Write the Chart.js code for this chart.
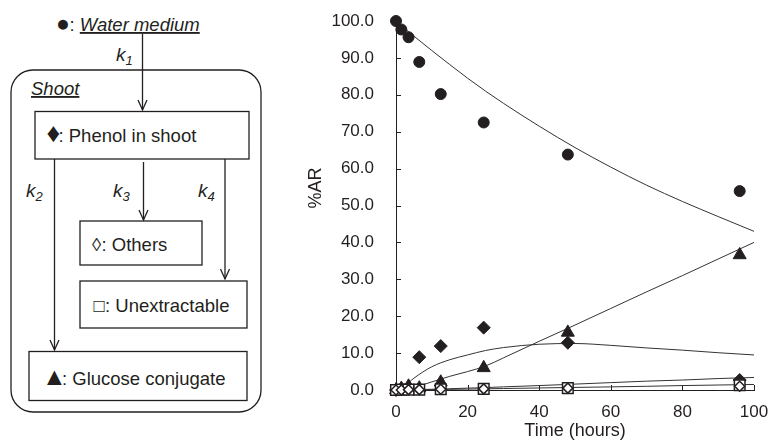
<!DOCTYPE html>
<html>
<head>
<meta charset="utf-8">
<script src="https://cdn.jsdelivr.net/npm/chart.js@4.4.1/dist/chart.umd.min.js"></script>
<style>
  html, body { margin: 0; padding: 0; background: #fff; }
  #page { position: relative; width: 769px; height: 442px; overflow: hidden; }
  #diagram { position: absolute; left: 0; top: 0; }
  #box { position: absolute; left: 290px; top: 0; width: 479px; height: 442px; }
  svg text { font-family: "Liberation Sans", Arial, sans-serif; fill: #231f20; }
</style>
</head>
<body>
<div id="page">
  <svg id="diagram" width="290" height="442" xmlns="http://www.w3.org/2000/svg">
    <g stroke="#231f20" stroke-width="1.3" fill="none">
      <!-- k1 -->
      <line x1="142.5" y1="34" x2="142.5" y2="110"/>
      <polyline points="138,100 142.5,110 147,100"/>
      <!-- shoot container -->
      <rect x="11" y="70" width="250" height="342" rx="22" ry="22"/>
      <!-- boxes -->
      <rect x="35" y="111.5" width="214" height="47.5"/>
      <rect x="80" y="221" width="122" height="44"/>
      <rect x="80" y="281" width="167" height="47"/>
      <rect x="29" y="351.5" width="218" height="49"/>
      <!-- k2 -->
      <line x1="54.5" y1="159" x2="54.5" y2="350"/>
      <polyline points="50,340 54.5,350 59,340"/>
      <!-- k3 -->
      <line x1="143.5" y1="162" x2="143.5" y2="220"/>
      <polyline points="139,210 143.5,220 148,210"/>
      <!-- k4 -->
      <line x1="225" y1="159" x2="225" y2="279"/>
      <polyline points="220.5,269 225,279 229.5,269"/>
    </g>
    <text y="31" font-size="18.5"><tspan x="56" font-size="23">●</tspan><tspan x="69.5">: </tspan><tspan font-style="italic" text-decoration="underline">Water medium</tspan></text>
    <text x="31" y="95" font-size="18.5" font-style="italic" text-decoration="underline">Shoot</text>
    <text y="141.5" font-size="18.5"><tspan x="46.5" font-size="27">♦</tspan><tspan x="58.5">: Phenol in shoot</tspan></text>
    <text y="251" font-size="18.5"><tspan x="92">◊</tspan><tspan x="101.5">: Others</tspan></text>
    <text y="312" font-size="18.5"><tspan x="93.5">□</tspan><tspan x="105">: Unextractable</tspan></text>
    <text y="384.5" font-size="18.5"><tspan x="42" font-size="25">▲</tspan><tspan x="62">: Glucose conjugate</tspan></text>
    <text x="116" y="61" font-size="19" font-style="italic">k<tspan font-size="13" dy="4">1</tspan></text>
    <text x="26" y="197" font-size="19" font-style="italic">k<tspan font-size="13" dy="4">2</tspan></text>
    <text x="113" y="197" font-size="19" font-style="italic">k<tspan font-size="13" dy="4">3</tspan></text>
    <text x="198" y="197" font-size="19" font-style="italic">k<tspan font-size="13" dy="4">4</tspan></text>
  </svg>
  <div id="box"><canvas id="chart"></canvas></div>
</div>
<script>
  // sampling times (hours) and measured %AR
  const times = [0, 1.5, 3.5, 6.5, 12.5, 24.5, 48, 96];
  const water = [100, 97.7, 95.6, 88.9, 80.2, 72.5, 63.8, 53.9];
  const phenol = [0, 0.3, 0.8, 8.9, 11.9, 16.9, 12.8, 2.7];
  const glucose = [0, 0.4, 1.0, 0.5, 2.1, 6.0, 15.6, 36.6];
  const others = [0, 0, 0.1, 0.1, 0.2, 0.3, 0.5, 1.0];
  const unextractable = [0, 0.1, 0.1, 0.1, 0.2, 0.3, 0.5, 1.3];

  // model curves
  const fitTimes = [0, 2, 5, 10, 15, 20, 25, 30, 40, 50, 60, 70, 80, 90, 100];
  const waterFit = [100, 98.3, 95.9, 92.0, 88.2, 84.5, 81.0, 77.7, 71.5, 65.7, 60.4, 55.5, 51.1, 47.0, 43.0];
  const phenolFit = [0, 0.8, 3.2, 6.3, 8.2, 9.5, 10.7, 11.5, 12.4, 12.6, 12.1, 11.4, 10.8, 10.1, 9.5];
  const glucoseFit = [0, 0.1, 0.7, 2.2, 3.7, 5.0, 6.5, 8.7, 13.2, 17.6, 22.1, 26.6, 31.0, 35.5, 40.0];
  const othersFit = [0, 0.02, 0.08, 0.2, 0.35, 0.5, 0.65, 0.85, 1.2, 1.6, 2.0, 2.4, 2.7, 3.1, 3.4];
  const unextractableFit = [0, 0.01, 0.03, 0.1, 0.17, 0.25, 0.32, 0.4, 0.55, 0.7, 0.85, 1.0, 1.2, 1.35, 1.5];

  const xTicks = [0, 20, 40, 60, 80, 100];
  const yTicks = [0, 10, 20, 30, 40, 50, 60, 70, 80, 90, 100];

  const INK = "#231f20";
  const FONT = '"Liberation Sans", Arial, sans-serif';

  function pts(xs, ys) {
    return xs.map(function (x, i) { return { x: x, y: ys[i] }; });
  }

  function markers(ys, style, radius, fill) {
    return {
      data: pts(times, ys),
      pointStyle: style,
      pointRadius: radius,
      pointBackgroundColor: fill,
      pointBorderColor: INK,
      pointBorderWidth: fill === "#fff" ? 1.5 : 1,
      showLine: false,
      clip: false,
    };
  }

  function curve(ys) {
    return {
      data: pts(fitTimes, ys),
      showLine: true,
      pointRadius: 0,
      borderColor: "#333",
      borderWidth: 1,
      cubicInterpolationMode: "monotone",
      clip: false,
    };
  }

  // inward tick marks + rotated y title
  const axisExtras = {
    id: "axisExtras",
    beforeDatasetsDraw(chart) {
      const ctx = chart.ctx, x = chart.scales.x, y = chart.scales.y;
      ctx.save();
      ctx.strokeStyle = INK;
      ctx.lineWidth = 1;
      xTicks.forEach(function (v) {
        const px = Math.round(x.getPixelForValue(v)) + 0.5;
        ctx.beginPath();
        ctx.moveTo(px, y.bottom);
        ctx.lineTo(px, y.bottom - 5);
        ctx.stroke();
      });
      yTicks.forEach(function (v) {
        const py = Math.round(y.getPixelForValue(v)) + 0.5;
        ctx.beginPath();
        ctx.moveTo(x.left, py);
        ctx.lineTo(x.left + 5, py);
        ctx.stroke();
      });
      ctx.restore();
    },
    afterDraw(chart) {
      const ctx = chart.ctx;
      ctx.save();
      ctx.fillStyle = INK;
      ctx.font = "18px " + FONT;
      ctx.textAlign = "center";
      ctx.textBaseline = "middle";
      ctx.translate(26, 188);
      ctx.rotate(-Math.PI / 2);
      ctx.fillText("%AR", 0, 0);
      ctx.restore();
    },
  };

  // hidden tick marks only space the labels away from the axis
  function spacer(len) {
    return { display: true, drawOnChartArea: false, drawTicks: true, tickLength: len, tickColor: "rgba(0,0,0,0)" };
  }

  new Chart("chart", {
    type: "scatter",
    data: {
      datasets: [
        markers(others, "rectRot", 5, "#fff"),
        markers(unextractable, "rect", 7.5, "#fff"),
        markers(glucose, "triangle", 7.5, INK),
        markers(phenol, "rectRot", 6.5, INK),
        markers(water, "circle", 5.5, INK),
        curve(waterFit),
        curve(phenolFit),
        curve(glucoseFit),
        curve(othersFit),
        curve(unextractableFit),
      ],
    },
    options: {
      responsive: true,
      maintainAspectRatio: false,
      animation: false,
      layout: { autoPadding: false, padding: { top: 21, right: 15, left: 0, bottom: 0 } },
      plugins: { legend: { display: false }, tooltip: { enabled: false } },
      scales: {
        x: {
          type: "linear",
          min: 0,
          max: 100,
          afterBuildTicks: function (s) { s.ticks = xTicks.map(function (v) { return { value: v }; }); },
          afterFit: function (s) { s.height = 52; },
          grid: spacer(12),
          border: { display: true, color: INK, width: 1 },
          ticks: { color: INK, padding: 0, font: { family: FONT, size: 17 } },
          title: { display: true, text: "Time (hours)", color: INK, padding: { top: 0, bottom: 0 }, font: { family: FONT, size: 18 } },
        },
        y: {
          min: 0,
          max: 100,
          afterBuildTicks: function (s) { s.ticks = yTicks.map(function (v) { return { value: v }; }); },
          afterFit: function (s) { s.width = 106; },
          grid: spacer(22),
          border: { display: true, color: INK, width: 1 },
          ticks: {
            color: INK,
            padding: 0,
            font: { family: FONT, size: 17 },
            callback: function (v) { return v.toFixed(1); },
          },
        },
      },
    },
    plugins: [axisExtras],
  });
</script>
</body>
</html>
